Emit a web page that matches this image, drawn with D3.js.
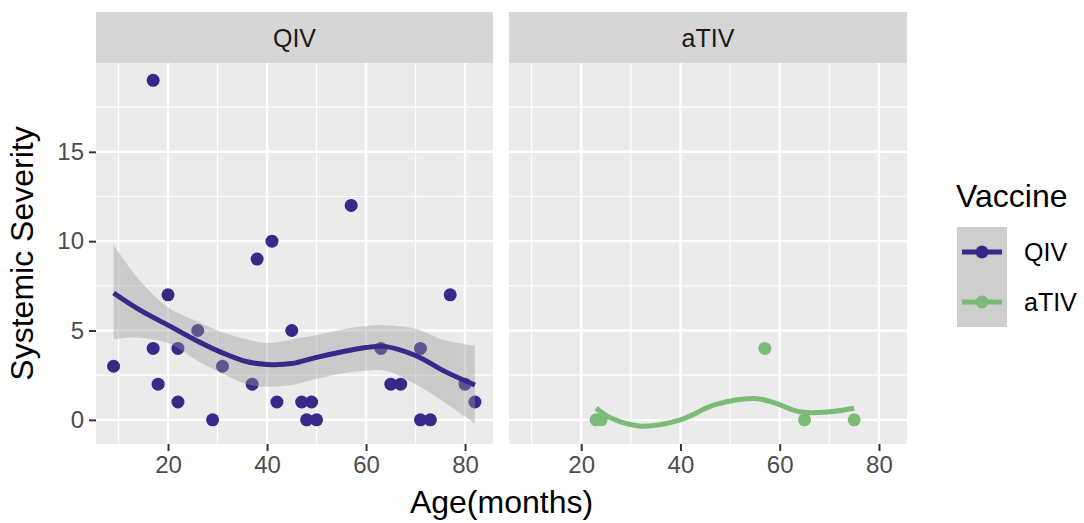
<!DOCTYPE html>
<html lang="en">
	<head>
		<meta charset="utf-8">
		<title>Systemic Severity by Age</title>
		<script type="text/javascript" src="https://d3js.org/d3.v7.min.js"></script>
		<style type="text/css">
			body { margin: 0; background: #fff; }
			text { font-family: "Liberation Sans", Arial, sans-serif; }
		</style>
	</head>
	<body>
		<script type="text/javascript">

			//Data
			var vaccines = ["QIV", "aTIV"];
			var colors = ["#352a87", "#7cbb77"];

			var qivAge = [9,17,17,18,20,22,22,26,29,31,37,38,41,42,45,47,49,48,50,57,63,65,67,71,71,73,77,80,82];
			var qivSev = [3,19,4,2,7,4,1,5,0,3,2,9,10,1,5,1,1,0,0,12,4,2,2,4,0,0,7,2,1];
			var ativAge = [23,24,57,65,75];
			var ativSev = [0,0,4,0,0];

			//loess fits (estimated)
			var qivFitAge = [9,14,20,26,31,36,40,45,50,55,60,64,70,76,82];
			var qivFit = [7.1,6.2,5.3,4.4,3.75,3.25,3.1,3.15,3.5,3.8,4.05,4.1,3.6,2.7,1.95];
			var qivLo = [4.5,4.6,4.3,3.3,2.6,2.0,1.85,1.95,2.3,2.6,2.75,2.75,2.0,0.95,-0.2];
			var qivHi = [9.8,7.9,6.3,5.5,4.9,4.5,4.3,4.5,4.75,5.05,5.25,5.3,5.1,4.45,4.15];
			var ativFitAge = [23,26,32,40,47,55,59,64,70,75];
			var ativFit = [0.65,0.1,-0.35,0,0.85,1.2,0.95,0.45,0.45,0.65];

			var xTicks = [20,40,60,80];
			var xMinor = [10,30,50,70];
			var yTicks = [0,5,10,15];
			var yMinor = [2.5,7.5,12.5,17.5];

			//Width and height
			var w = 1084;
			var h = 523;
			var panelTop = 63, panelBottom = 444, stripTop = 12;
			var panels = [{x0: 96, x1: 493}, {x0: 509, x1: 907}];

			var y = d3.scaleLinear().domain([-1.35, 19.97]).range([panelBottom, panelTop]);

			var svg = d3.select("body")
						.append("svg")
						.attr("width", w)
						.attr("height", h);

			var series = [
				{pts: d3.zip(qivAge, qivSev), fit: d3.zip(qivFitAge, qivFit), band: d3.zip(qivFitAge, qivLo, qivHi)},
				{pts: d3.zip(ativAge, ativSev), fit: d3.zip(ativFitAge, ativFit), band: null}
			];

			panels.forEach(function(p, i) {
				var x = d3.scaleLinear().domain([5.45, 85.65]).range([p.x0, p.x1]);
				var g = svg.append("g");

				//panel background
				g.append("rect")
					.attr("x", p.x0).attr("y", panelTop)
					.attr("width", p.x1 - p.x0).attr("height", panelBottom - panelTop)
					.attr("fill", "#ebebeb");

				//grid
				g.selectAll(".xminor").data(xMinor).enter().append("line")
					.attr("x1", x).attr("x2", x).attr("y1", panelTop).attr("y2", panelBottom)
					.attr("stroke", "#fff").attr("stroke-width", 1.2);
				g.selectAll(".yminor").data(yMinor).enter().append("line")
					.attr("x1", p.x0).attr("x2", p.x1).attr("y1", y).attr("y2", y)
					.attr("stroke", "#fff").attr("stroke-width", 1.2);
				g.selectAll(".xmajor").data(xTicks).enter().append("line")
					.attr("x1", x).attr("x2", x).attr("y1", panelTop).attr("y2", panelBottom)
					.attr("stroke", "#fff").attr("stroke-width", 2.4);
				g.selectAll(".ymajor").data(yTicks).enter().append("line")
					.attr("x1", p.x0).attr("x2", p.x1).attr("y1", y).attr("y2", y)
					.attr("stroke", "#fff").attr("stroke-width", 2.4);

				//strip
				g.append("rect")
					.attr("x", p.x0).attr("y", stripTop)
					.attr("width", p.x1 - p.x0).attr("height", panelTop - stripTop)
					.attr("fill", "#d6d6d6");
				g.append("text")
					.attr("x", (p.x0 + p.x1) / 2).attr("y", (stripTop + panelTop) / 2)
					.attr("text-anchor", "middle").attr("dominant-baseline", "central")
					.attr("font-size", 25).attr("fill", "#1a1a1a")
					.text(vaccines[i]);

				//x axis
				var xAxis = g.append("g")
					.attr("transform", "translate(0," + panelBottom + ")")
					.call(d3.axisBottom(x).tickValues(xTicks).tickSize(7).tickPadding(5));
				xAxis.select(".domain").remove();
				xAxis.selectAll(".tick line").attr("stroke", "#333").attr("stroke-width", 2);
				xAxis.selectAll(".tick text").attr("font-size", 24).attr("fill", "#4d4d4d")
					.attr("font-family", "Liberation Sans, Arial, sans-serif");

				if (i === 0) {
					var yAxis = g.append("g")
						.attr("transform", "translate(" + p.x0 + ",0)")
						.call(d3.axisLeft(y).tickValues(yTicks).tickSize(7).tickPadding(5));
					yAxis.select(".domain").remove();
					yAxis.selectAll(".tick line").attr("stroke", "#333").attr("stroke-width", 2);
					yAxis.selectAll(".tick text").attr("font-size", 24).attr("fill", "#4d4d4d")
						.attr("font-family", "Liberation Sans, Arial, sans-serif");
				}

				var s = series[i];

				//points
				g.selectAll(".pt").data(s.pts).enter().append("circle")
					.attr("cx", function(d) { return x(d[0]); })
					.attr("cy", function(d) { return y(d[1]); })
					.attr("r", 6.5)
					.attr("fill", colors[i]);

				//confidence band
				if (s.band) {
					var area = d3.area()
						.x(function(d) { return x(d[0]); })
						.y0(function(d) { return y(d[1]); })
						.y1(function(d) { return y(d[2]); })
						.curve(d3.curveCatmullRom);
					g.append("path").attr("d", area(s.band))
						.attr("fill", "#999").attr("fill-opacity", 0.4);
				}

				//smooth
				var line = d3.line()
					.x(function(d) { return x(d[0]); })
					.y(function(d) { return y(d[1]); })
					.curve(d3.curveCatmullRom);
				g.append("path").attr("d", line(s.fit))
					.attr("fill", "none").attr("stroke", colors[i]).attr("stroke-width", 5);
			});

			//axis titles
			svg.append("text")
				.attr("x", (panels[0].x0 + panels[1].x1) / 2).attr("y", 513)
				.attr("text-anchor", "middle").attr("font-size", 32).attr("fill", "#000")
				.text("Age(months)");
			svg.append("text")
				.attr("transform", "translate(33," + ((panelTop + panelBottom) / 2) + ") rotate(-90)")
				.attr("text-anchor", "middle").attr("font-size", 32).attr("fill", "#000")
				.text("Systemic Severity");

			//legend
			var legend = svg.append("g");
			legend.append("text")
				.attr("x", 956).attr("y", 207)
				.attr("font-size", 32).attr("fill", "#000")
				.text("Vaccine");
			var keys = legend.selectAll(".key").data(vaccines).enter().append("g")
				.attr("transform", function(d, i) { return "translate(957," + (227 + i * 50) + ")"; });
			keys.append("rect")
				.attr("width", 50).attr("height", 50)
				.attr("fill", "#f2f2f2");
			keys.append("rect")
				.attr("width", 50).attr("height", 50)
				.attr("fill", "#999").attr("fill-opacity", 0.4);
			keys.append("line")
				.attr("x1", 5).attr("x2", 45).attr("y1", 25).attr("y2", 25)
				.attr("stroke", function(d, i) { return colors[i]; }).attr("stroke-width", 5);
			keys.append("circle")
				.attr("cx", 25).attr("cy", 25).attr("r", 6.5)
				.attr("fill", function(d, i) { return colors[i]; });
			keys.append("text")
				.attr("x", 67).attr("y", 25)
				.attr("dominant-baseline", "central")
				.attr("font-size", 25).attr("fill", "#000")
				.text(function(d) { return d; });

		</script>
	</body>
</html>
